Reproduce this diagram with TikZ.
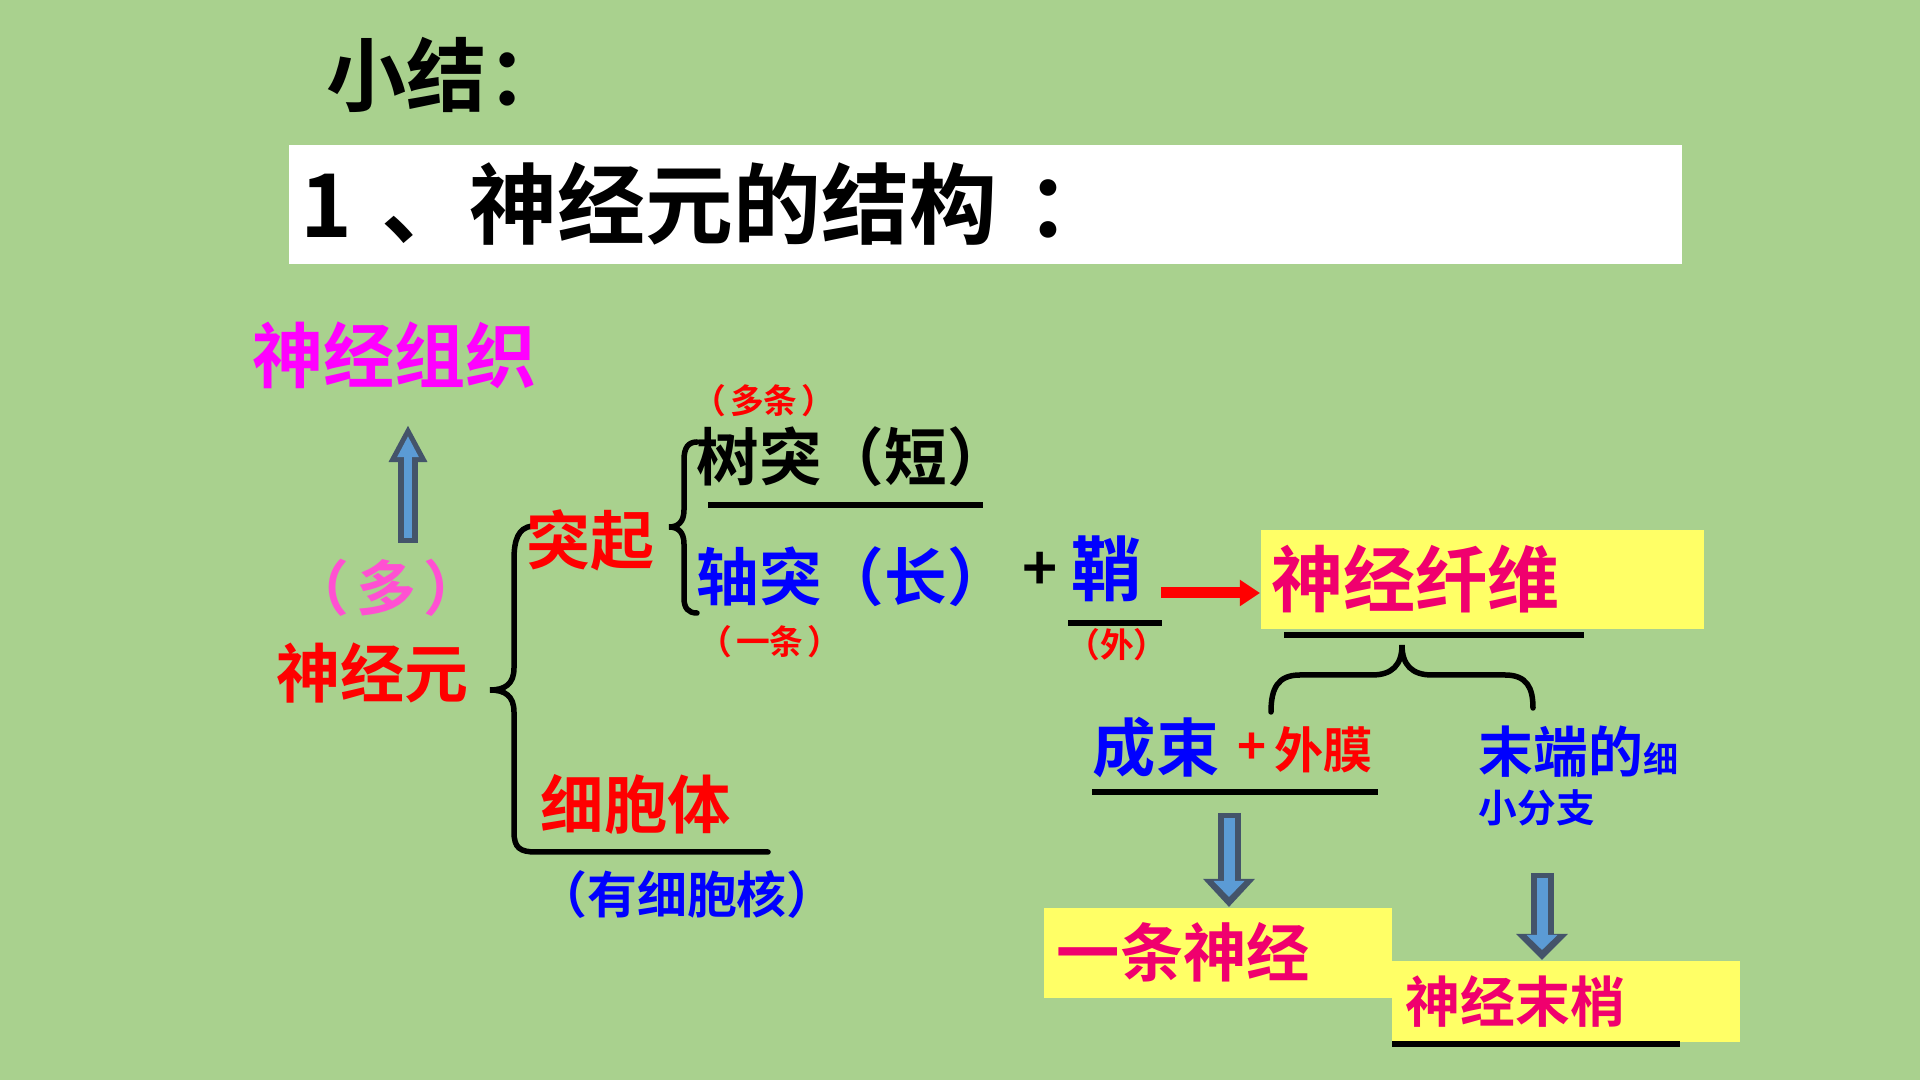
\documentclass[tikz,border=0pt]{standalone}
\usepackage{fontspec}
\newfontfamily\cjk{Noto Sans CJK SC}[BoldFont={* Bold}]
\usetikzlibrary{arrows.meta}

\definecolor{bggreen}{RGB}{169,209,142}
\definecolor{magn}{RGB}{255,0,255}
\definecolor{pinkm}{RGB}{255,80,210}
\definecolor{crim}{RGB}{240,0,110}
\definecolor{yfill}{RGB}{255,255,102}
\definecolor{arrline}{RGB}{68,84,106}
\definecolor{arrfill}{RGB}{91,155,213}
\newcommand{\fsz}[1]{\fontsize{#1pt}{#1pt}\selectfont}
\newcommand{\kk}{\kern0.12em}

\tikzset{
  lbl/.style={inner sep=0pt, font=\cjk\bfseries},
  sub/.style={lbl, red, font=\cjk\bfseries\fsz{9.6}},
  ybox/.style={fill=yfill, text=crim, inner ysep=0pt, align=left, anchor=north west},
  brc/.style={line width=0.055cm, line cap=round},
  uline/.style={line width=0.065cm},
  blkout/.style n args={3}{draw=arrline, line width=#1, -{Triangle[length=#2,width=#3]}},
  blkin/.style n args={3}{draw=arrfill, line width=#1, shorten <=0.05cm, -{Triangle[length=#2,width=#3]}},
  redarr/.style={draw=red, line width=0.11cm, -{Triangle[length=0.2cm,width=0.25cm]}}
}

\begin{document}
\begin{tikzpicture}[x=0.01cm, y=-0.01cm]
\useasboundingbox (0,0) rectangle (1920,1080);
\fill[bggreen] (0,0) rectangle (1920,1080);

% headings:
\node[lbl, anchor=west, font=\cjk\bfseries\fsz{22.8}] (xiaojie) at (326,75) {小结：};
\node[fill=white, inner xsep=0.12cm, inner ysep=0pt, text width=13.68cm, minimum height=1.19cm,
  align=left, anchor=north west, font=\cjk\bfseries\fsz{25}] (biaoti) at (288,144) {1 、神经元的结构 ：};

% neuron, tissue:
\node[lbl, anchor=west, magn, font=\cjk\bfseries\fsz{20.2}] (zuzhi) at (252,355) {神经组织};
\node[lbl, pinkm, font=\cjk\bfseries\fsz{17}] (duo) at (386,588) {（\kk 多\kk）};
\node[lbl, anchor=west, red, font=\cjk\bfseries\fsz{18.2}] (yuan) at (276,673) {神经元};
\coordinate (upS) at (408,543);
\coordinate (upE) at (408,425);
\draw[blkout={0.19cm}{0.37cm}{0.36cm}] (upS) -- (upE);
\draw[blkin={0.08cm}{0.21cm}{0.2cm}, shorten >=0.11cm] (upS) -- (upE);

% big brace:
\draw[brc] (532,526) .. controls (518,528) and (514,540) .. (514,560) -- (514,668)
  .. controls (514,684) and (505,690) .. (490,690) .. controls (505,690) and (514,696) .. (514,712)
  -- (514,832) .. controls (514,848) and (520,852) .. (536,852) -- (768,852);
\node[lbl, anchor=west, red, font=\cjk\bfseries\fsz{18.2}] (tuqi) at (526,540) {突起};
\node[lbl, anchor=west, red, font=\cjk\bfseries\fsz{18}] (xibaoti) at (540,804) {细胞体};
\node[lbl, blue, font=\cjk\bfseries\fsz{14.2}] (xibaohe) at (687,895) {（有细胞核）};

% small brace:
\draw[brc] (697,442) .. controls (688,442) and (684,448) .. (684,460) -- (684,510)
  .. controls (684,522) and (678,527) .. (669,527) .. controls (678,527) and (684,532) .. (684,544)
  -- (684,598) .. controls (684,608) and (688,613) .. (697,613);
\node[sub] (duotiao) at (764,401) {（\kk 多条\kk）};
\node[lbl, anchor=west, font=\cjk\bfseries\fsz{17.8}] (shutu) at (696,457) {树突（短）};
\draw[uline] (708,505) -- (983,505);
\node[lbl, anchor=west, blue, font=\cjk\bfseries\fsz{17.8}] (zhoutu) at (696,577) {轴突（长）};
\node[sub] (yitiao) at (770,642) {（\kk 一条\kk）};
\node[lbl, font=\cjk\bfseries\fsz{17}] (jia) at (1040,571) {+};
\node[lbl, blue, font=\cjk\bfseries\fsz{20}] (qiao) at (1107,569) {鞘};
\draw[uline] (1068,623) -- (1162,623);
\node[sub] (wai) at (1117,645) {（外）};

% nerve fibre:
\node[ybox, inner xsep=0.11cm, text width=4.21cm, minimum height=0.99cm,
  font=\cjk\bfseries\fsz{20.5}] (xianwei) at (1260,529) {神经纤维};
\coordinate (ra) at (1161,593);
\draw[redarr] (ra) -- (ra -| xianwei.west);
\draw[uline] (1284,635) -- (1584,635);
\draw[brc] (1271,712) .. controls (1271,688) and (1278,675) .. (1300,675) -- (1372,675)
  .. controls (1392,675) and (1402,665) .. (1402,645) .. controls (1402,665) and (1412,675) .. (1432,675)
  -- (1505,675) .. controls (1527,675) and (1533,688) .. (1533,708);

% bundles, endings:
\node[lbl, anchor=west, blue, font=\cjk\bfseries\fsz{18}] (chengshu) at (1092,748) {成束};
\node[lbl, red, font=\cjk\bfseries\fsz{14}] (jia2) at (1252,749) {+};
\node[lbl, anchor=west, red, font=\cjk\bfseries\fsz{14}] (waimo) at (1274,750) {外膜};
\draw[uline] (1092,792) -- (1378,792);
\node[lbl, anchor=west, blue, font=\cjk\bfseries\fsz{15.6}] (moduan) at (1478,752) {末端的{\fsz{10}细}};
\node[lbl, anchor=west, blue, font=\cjk\bfseries\fsz{11}] (fenzhi) at (1478,808) {小分支};

\node[ybox, inner xsep=0.13cm, text width=3.22cm, minimum height=0.9cm,
  font=\cjk\bfseries\fsz{18}] (shenjing) at (1043,907) {一条神经};
\node[ybox, inner xsep=0.14cm, text width=3.2cm, minimum height=0.81cm,
  font=\cjk\bfseries\fsz{15.6}] (moshao) at (1391,960) {神经末梢};
\draw[uline] (1392,1044) -- (1680,1044);

\coordinate (d1) at (1229,813);
\draw[blkout={0.23cm}{0.28cm}{0.5cm}] (d1) -- (d1 |- shenjing.north);
\draw[blkin={0.11cm}{0.16cm}{0.3cm}, shorten >=0.1cm] (d1) -- (d1 |- shenjing.north);
\coordinate (d2) at (1542,873);
\draw[blkout={0.23cm}{0.26cm}{0.5cm}] (d2) -- (d2 |- moshao.north);
\draw[blkin={0.11cm}{0.15cm}{0.3cm}, shorten >=0.1cm] (d2) -- (d2 |- moshao.north);
\end{tikzpicture}
\end{document}
